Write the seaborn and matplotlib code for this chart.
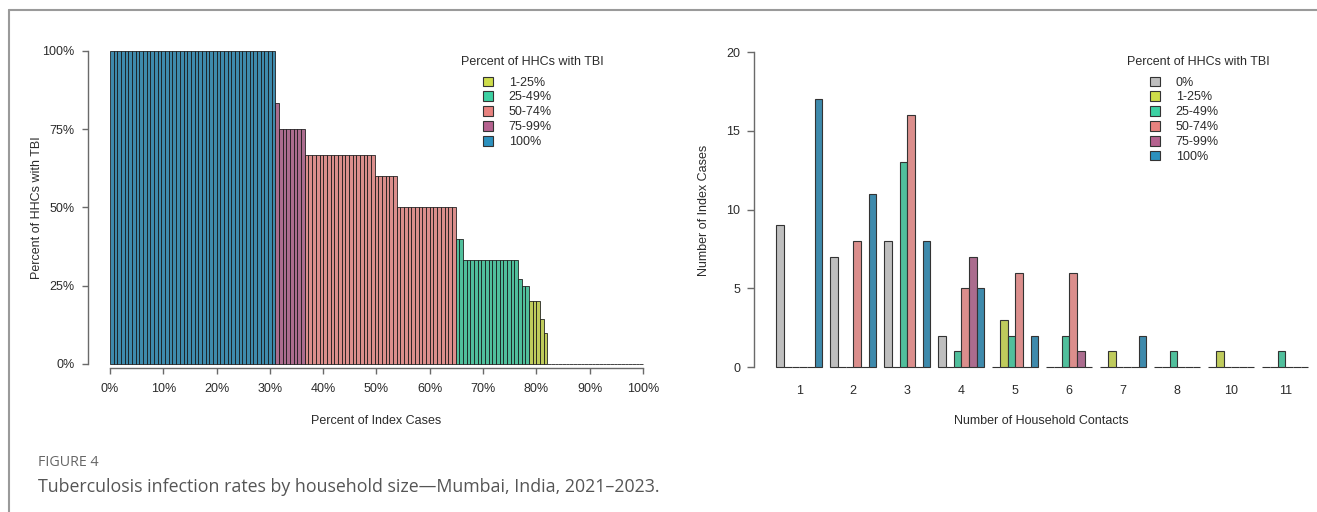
import numpy as np
import pandas as pd
import matplotlib
matplotlib.use("Agg")
import matplotlib.pyplot as plt
from matplotlib.patches import Patch
from matplotlib.lines import Line2D
import seaborn as sns

# ---- data -------------------------------------------------------------
groups = ["0%", "1-25%", "25-49%", "50-74%", "75-99%", "100%"]
group_colors = ["#BEBEBE", "#CEDD4A", "#3DD1A3", "#E8827F", "#B5628F", "#2C91BE"]

# left panel: share of household contacts with TBI per index case (sorted)
case_pct = [100, 83.33, 75, 66.67, 60, 50, 40, 33.33, 27.27, 25, 20, 14.29, 10, 0]
case_n = [45, 1, 7, 19, 6, 16, 2, 15, 1, 2, 3, 1, 1, 26]
case_group = ["100%", "75-99%", "75-99%", "50-74%", "50-74%", "50-74%",
              "25-49%", "25-49%", "25-49%", "25-49%",
              "1-25%", "1-25%", "1-25%", "0%"]

# right panel: number of index cases by household size and TBI group
hh_sizes = ["1", "2", "3", "4", "5", "6", "7", "8", "10", "11"]
n_0 = [9, 7, 8, 2, 0, 0, 0, 0, 0, 0]
n_1_25 = [0, 0, 0, 0, 3, 0, 1, 0, 1, 0]
n_25_49 = [0, 0, 13, 1, 2, 2, 0, 1, 0, 1]
n_50_74 = [0, 8, 16, 5, 6, 6, 0, 0, 0, 0]
n_75_99 = [0, 0, 0, 7, 0, 1, 0, 0, 0, 0]
n_100 = [17, 11, 8, 5, 2, 0, 2, 0, 0, 0]

x_ticklabels = ["0%", "10%", "20%", "30%", "40%", "50%", "60%", "70%", "80%", "90%", "100%"]
y_ticklabels_left = ["0%", "25%", "50%", "75%", "100%"]

# ---- figure setup -----------------------------------------------------
sns.set_style("white")
plt.rcParams["font.family"] = ["Liberation Sans", "DejaVu Sans"]

W, H = 1317, 512
fig = plt.figure(figsize=(W / 100, H / 100), dpi=100)
fig.patch.set_facecolor("white")


def px_rect(l, t, r, b):
    return [l / W, 1 - b / H, (r - l) / W, (b - t) / H]


palette = dict(zip(groups, group_colors))
txt_col = "#2b2b2b"
axis_col = "#6a6a6a"
fs = 9

# ---- left panel: sorted bars per index case ---------------------------
left = pd.DataFrame({
    "case": np.arange(sum(case_n)),
    "pct": np.repeat(case_pct, case_n),
    "group": np.repeat(case_group, case_n),
})
n_cases = len(left)

axL = fig.add_axes(px_rect(88, 40, 660, 376))
sns.barplot(data=left, x="case", y="pct", hue="group", palette=palette,
            hue_order=groups, dodge=False, native_scale=True, width=1,
            edgecolor="#151515", linewidth=0.55, legend=False, ax=axL)

u = 533 / n_cases
axL.set_xlim(-0.5 - 22 / u, -0.5 + 550 / u)
v = 313 / 100
axL.set_ylim(-12 / v, 100 + 11 / v)
for sp in ["top", "right"]:
    axL.spines[sp].set_visible(False)
axL.spines["left"].set_bounds(0, 100)
axL.spines["bottom"].set_position(("data", -4 / v))
axL.spines["bottom"].set_bounds(-0.5, n_cases - 0.5)
for sp in ["left", "bottom"]:
    axL.spines[sp].set_color(axis_col)
    axL.spines[sp].set_linewidth(1)

axL.set_xticks(np.linspace(-0.5, n_cases - 0.5, len(x_ticklabels)))
axL.set_xticklabels(x_ticklabels)
axL.set_yticks([0, 25, 50, 75, 100])
axL.set_yticklabels(y_ticklabels_left)
axL.tick_params(axis="x", bottom=True, length=4.3, width=1, color=axis_col,
                pad=6.5, labelsize=fs, labelcolor=txt_col)
axL.tick_params(axis="y", left=True, length=4.3, width=1, color=axis_col,
                pad=5.5, labelsize=fs, labelcolor=txt_col)
axL.set_xlabel("Percent of Index Cases", fontsize=fs, color=txt_col)
axL.set_ylabel("Percent of HHCs with TBI", fontsize=fs, color=txt_col)
axL.xaxis.set_label_coords((376 - 88) / 572, (376 - 421) / 336)
axL.yaxis.set_label_coords((37 - 88) / 572, (376 - 207.5) / 336)
axL.xaxis.label.set_va("center")
axL.yaxis.label.set_va("center")
axL.grid(False)

# ---- right panel: grouped bars by household size ----------------------
counts = [n_0, n_1_25, n_25_49, n_50_74, n_75_99, n_100]
right = pd.DataFrame({
    "size": np.tile(hh_sizes, len(groups)),
    "group": np.repeat(groups, len(hh_sizes)),
    "count": np.concatenate(counts),
})

axR = fig.add_axes(px_rect(754, 40, 1317, 378))
sns.barplot(data=right, x="size", y="count", hue="group", order=hh_sizes,
            hue_order=groups, palette=palette, width=6 / 7, gap=0,
            errorbar=None, edgecolor="#333333", linewidth=0.8,
            legend=False, ax=axR)

axR.set_xlim(-(799.3 - 754) / 54, (1317 - 799.3) / 54)
w = 315 / 20
axR.set_ylim(-11 / w, 20 + 12 / w)
for sp in ["top", "right", "bottom"]:
    axR.spines[sp].set_visible(False)
axR.spines["left"].set_bounds(0, 20)
axR.spines["left"].set_color(axis_col)
axR.spines["left"].set_linewidth(1)
axR.set_yticks([0, 5, 10, 15, 20])
axR.tick_params(axis="x", bottom=False, length=0, pad=5, labelsize=fs,
                labelcolor=txt_col)
axR.tick_params(axis="y", left=True, length=5, width=1, color=axis_col,
                pad=5, labelsize=fs, labelcolor=txt_col)
axR.set_xlabel("Number of Household Contacts", fontsize=fs, color=txt_col)
axR.set_ylabel("Number of Index Cases", fontsize=fs, color=txt_col)
axR.xaxis.set_label_coords((1041 - 754) / 563, (378 - 421) / 338)
axR.yaxis.set_label_coords((704 - 754) / 563, (378 - 210) / 338)
axR.xaxis.label.set_va("center")
axR.yaxis.label.set_va("center")
axR.grid(False)

# ---- legends ----------------------------------------------------------
def add_legend(title_x, box_x, names):
    fig.text(title_x / W, 1 - 62 / H, "Percent of HHCs with TBI", ha="center",
             va="center", fontsize=fs, color=txt_col)
    handles = [Patch(facecolor=palette[g], edgecolor="#333333", linewidth=0.8,
                     label=g) for g in names]
    fig.legend(handles=handles, loc="upper left",
               bbox_to_anchor=(box_x / W, 1 - 76.5 / H), frameon=False,
               fontsize=fs, borderpad=0, borderaxespad=0, handlelength=0.8,
               handleheight=0.8, handletextpad=1.25, labelspacing=0.22,
               labelcolor=txt_col)


add_legend(532, 483, groups[1:])
add_legend(1198, 1150, groups)

# ---- caption and frame ------------------------------------------------
fig.text(38 / W, 1 - 462 / H, "FIGURE 4", fontsize=10.3, color="#666666",
         va="center", ha="left", family=["Open Sans", "DejaVu Sans"])
fig.text(38 / W, 1 - 487 / H,
         "Tuberculosis infection rates by household size\u2014Mumbai, India, 2021\u20132023.",
         fontsize=12.8, color="#555555", va="center", ha="left",
         family=["Open Sans", "DejaVu Sans"])

frame_col = "#9a9a9a"
fig.add_artist(Line2D([9 / W, 1], [1 - 10 / H, 1 - 10 / H], color=frame_col,
                      linewidth=1.5, transform=fig.transFigure))
fig.add_artist(Line2D([9 / W, 9 / W], [0, 1 - 10 / H], color=frame_col,
                      linewidth=1.5, transform=fig.transFigure))

fig.savefig("out.png", dpi=100, facecolor="white")
